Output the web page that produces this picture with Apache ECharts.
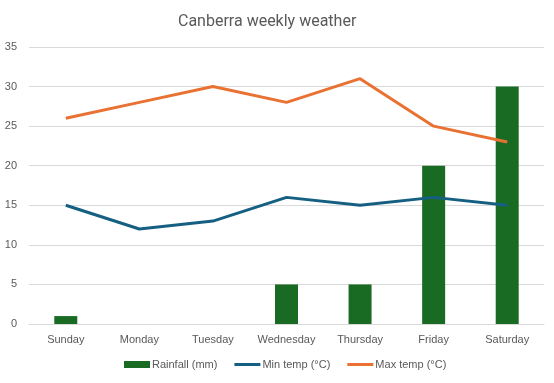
<!DOCTYPE html>
<html><head><meta charset="utf-8">
<script src="https://cdn.jsdelivr.net/npm/echarts@6/dist/echarts.min.js"></script>
<style>html,body{margin:0;padding:0;background:#fff}#c{width:554px;height:383px}</style>
</head><body><div id="c"></div>
<script>
const categories = ['Sunday','Monday','Tuesday','Wednesday','Thursday','Friday','Saturday'];
const rainfall = [1, 0, 0, 5, 5, 20, 30];
const minTemp = [15, 12, 13, 16, 15, 16, 15];
const maxTemp = [26, 28, 30, 28, 31, 25, 23];

const chart = echarts.init(document.getElementById('c'));
const font = 'Liberation Sans, Arial, sans-serif';
chart.setOption({
  animation: false,
  title: {
    text: 'Canberra weekly weather', left: 173, top: 9,
    textStyle: { color: '#595959', fontSize: 16, fontWeight: 'normal', fontFamily: 'Roboto, sans-serif' }
  },
  legend: {
    bottom: 8, left: 119, itemGap: 17, itemWidth: 26, itemHeight: 7,
    textStyle: { color: '#595959', fontSize: 11, fontFamily: font, padding: [0, 0, 0, -3] },
    data: [
      { name: 'Rainfall (mm)', icon: 'rect' },
      { name: 'Min temp (°C)', icon: 'path://M0,0 L26,0 L26,3 L0,3 Z' },
      { name: 'Max temp (°C)', icon: 'path://M0,0 L26,0 L26,3 L0,3 Z' }
    ]
  },
  grid: { left: 29, right: 10, top: 47, bottom: 59, containLabel: false },
  xAxis: {
    type: 'category', data: categories,
    axisLine: { lineStyle: { color: '#d9d9d9' } },
    axisTick: { show: false },
    axisLabel: { color: '#595959', fontSize: 11, fontFamily: font, margin: 10, interval: 0, hideOverlap: false }
  },
  yAxis: {
    type: 'value', min: 0, max: 35, interval: 5,
    axisLine: { show: false }, axisTick: { show: false },
    splitLine: { lineStyle: { color: '#d9d9d9' } },
    axisLabel: { color: '#595959', fontSize: 11, fontFamily: font, margin: 12 }
  },
  series: [
    { name: 'Rainfall (mm)', type: 'bar', data: rainfall, barWidth: 23,
      itemStyle: { color: '#196B24' } },
    { name: 'Min temp (°C)', type: 'line', data: minTemp, symbol: 'none',
      lineStyle: { color: '#156082', width: 3 }, itemStyle: { color: '#156082' } },
    { name: 'Max temp (°C)', type: 'line', data: maxTemp, symbol: 'none',
      lineStyle: { color: '#E97132', width: 3 }, itemStyle: { color: '#E97132' } }
  ]
});
</script></body></html>
